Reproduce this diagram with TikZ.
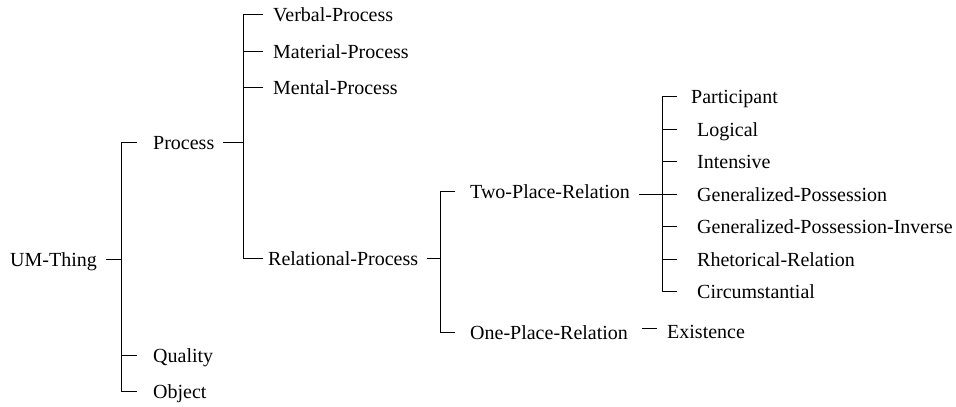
\documentclass[tikz,border=0pt]{standalone}
\usepackage{fontspec}
\setmainfont{Liberation Serif}
\usetikzlibrary{calc}
\begin{document}
\begin{tikzpicture}[x=1pt,y=-1pt,
  lbl/.style={anchor=base west,inner sep=0pt,font=\fontsize{20}{24}\selectfont},
  link/.style={line width=0.9pt,line cap=rect}]
\useasboundingbox (0,0) rectangle (956,407);
% entry: name, text x, stub y, left gap, text
\newcommand\entry[5]{%
  \node[lbl] (#1) at (#2,#3+7) {#5};
  \coordinate (#1-l) at (#2-#4,#3);
  \path (#1.east |- #1-l) ++(9,0) coordinate (#1-r);}
% hierarchy
\entry{um}{10}{259}{0}{UM-Thing}
\entry{proc}{153}{142}{16}{Process}
\entry{qual}{153}{355}{16}{Quality}
\entry{obj}{153}{391}{16}{Object}
\entry{verb}{273}{14}{10}{Verbal-Process}
\entry{mat}{273}{51}{10}{Material-Process}
\entry{ment}{273}{87}{10}{Mental-Process}
\entry{rel}{268}{258}{5}{Relational-Process}
\entry{two}{470}{191}{15}{Two-Place-Relation}
\entry{one}{470}{332}{15}{One-Place-Relation}
\entry{part}{691}{96}{14}{Participant}
\entry{logi}{697}{129}{20}{Logical}
\entry{inte}{697}{161}{20}{Intensive}
\entry{gp}{697}{194}{20}{Generalized-Possession}
\entry{gpi}{697}{226}{20}{Generalized-Possession-Inverse}
\entry{rhet}{697}{259}{20}{Rhetorical-Relation}
\entry{circ}{697}{291}{20}{Circumstantial}
\entry{exis}{667}{331}{10}{Existence}
% bracket spines
\coordinate (s1) at (121,0);
\coordinate (s2) at (243,0);
\coordinate (s3) at (440,0);
\coordinate (s4) at (662,0);
% UM-Thing
\draw[link] (um-r) -- (um-r -| s1);
\draw[link] (proc-l) -- (proc-l -| s1) -- (obj-l -| s1) -- (obj-l);
\draw[link] (qual-l -| s1) -- (qual-l);
% Process
\draw[link] (proc-r) -- (proc-r -| s2);
\draw[link] (verb-l) -- (verb-l -| s2) -- (rel-l -| s2) -- (rel-l);
\draw[link] (mat-l -| s2) -- (mat-l);
\draw[link] (ment-l -| s2) -- (ment-l);
% Relational-Process
\draw[link] (rel-r) -- (rel-r -| s3);
\draw[link] (two-l) -- (two-l -| s3) -- (one-l -| s3) -- (one-l);
% Two-Place-Relation
\draw[link] (two-r |- gp-l) -- (gp-l -| s4);
\draw[link] (part-l) -- (part-l -| s4) -- (circ-l -| s4) -- (circ-l);
\foreach \n in {logi,inte,gp,gpi,rhet}
  \draw[link] (\n-l -| s4) -- (\n-l);
% One-Place-Relation
\draw[link] ([xshift=5pt,yshift=3pt]one-r |- exis-l) -- ([yshift=3pt]exis-l);
\end{tikzpicture}
\end{document}
